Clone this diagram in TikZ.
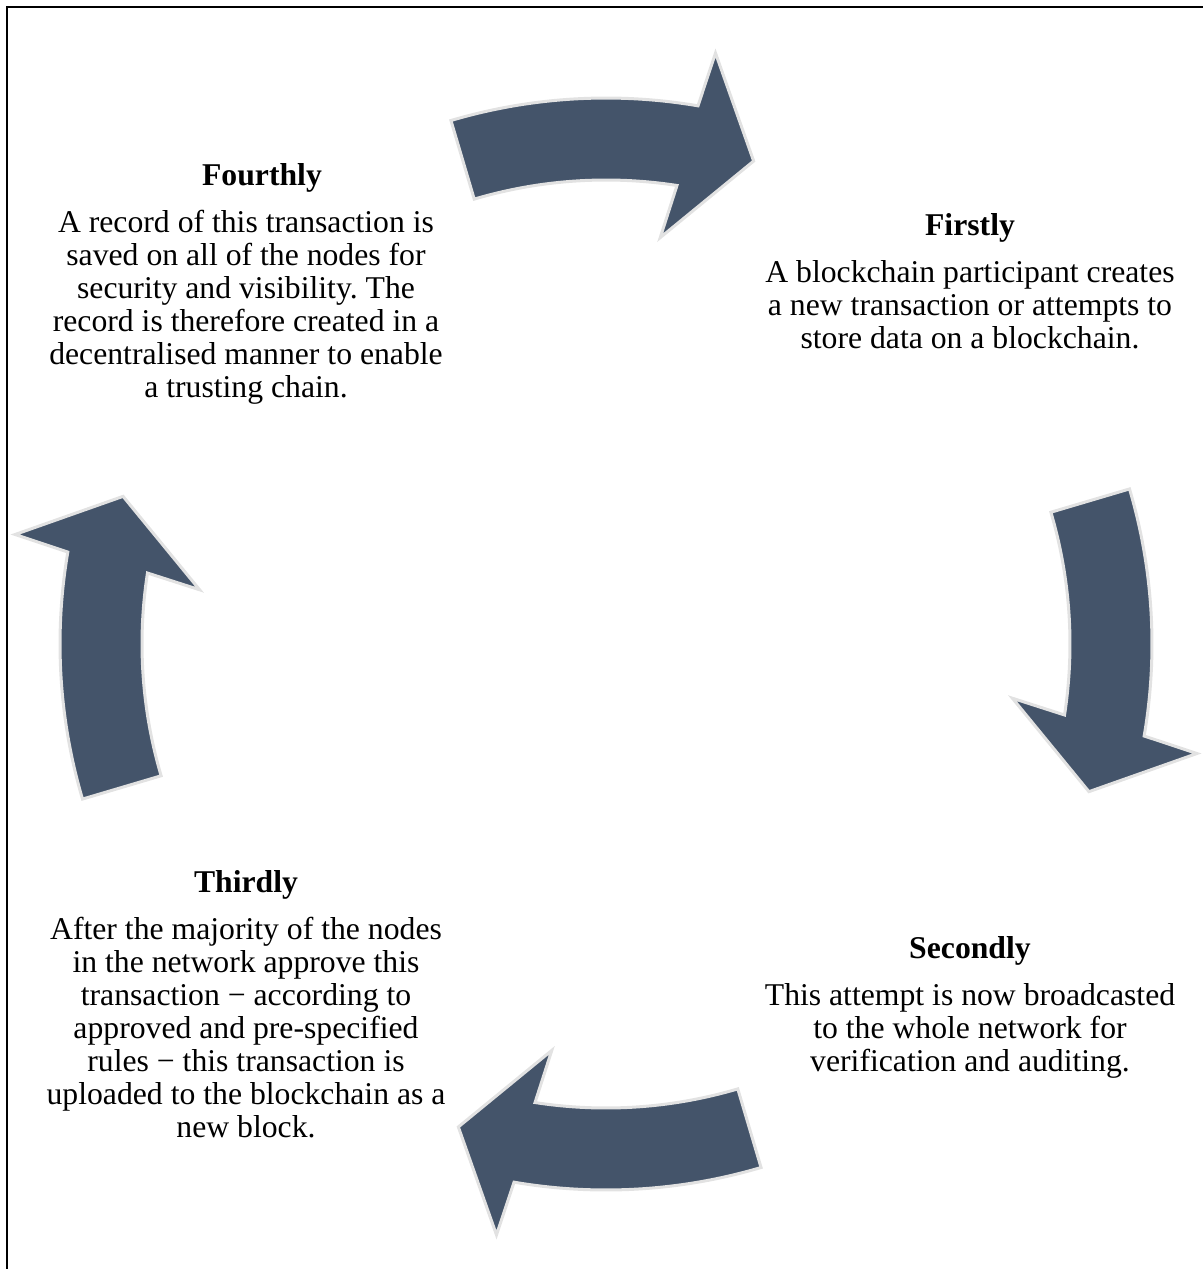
\documentclass[tikz,border=0pt]{standalone}
\usepackage{fontspec}
\setmainfont{Liberation Serif}
\frenchspacing
\definecolor{slate}{HTML}{44546A}
\definecolor{rim}{HTML}{E2E2E2}

\begin{document}
\begin{tikzpicture}[
    x=0.5pt, y=0.5pt,
    heading/.style={font=\fontsize{15.85}{16.5}\selectfont\bfseries, inner sep=0pt, anchor=base},
    blurb/.style={font=\fontsize{15.85}{16.5}\selectfont, align=center, inner sep=0pt, anchor=base},
    cyclearrow/.style={fill=slate, draw=rim, line width=1.5pt, line join=miter}
  ]
  \useasboundingbox (0,0) rectangle (1203,-1269);
  \draw[line width=1pt] (7,-1269) -- (7,-7) -- (1203,-7);

  % four curved arrows round the hub, turning clockwise
  \coordinate (hub) at (606,-644);
  \foreach \quarter in {0,-90,-180,-270} {
    \begin{scope}[shift={(hub)}, rotate=\quarter]
      \filldraw[cyclearrow] (106.5:546) arc[start angle=106.5, end angle=80.3, radius=546]
        -- (79.5:601) -- (73:505) -- (82.4:410) -- (81.2:464)
        arc[start angle=81.2, end angle=106.5, radius=464] -- cycle;
    \end{scope}
  }

  % steps (a blurb's base is the baseline of its last line)
  \node[heading] (first) at (970,-235) {Firstly};
  \node[blurb] (first-text) at ([yshift=-56.5pt] first.base)
    {A blockchain participant creates\\a new transaction or attempts to\\store data on a blockchain.};

  \node[heading] (second) at (970,-958) {Secondly};
  \node[blurb] (second-text) at ([yshift=-56.5pt] second.base)
    {This attempt is now broadcasted\\to the whole network for\\verification and auditing.};

  \node[heading] (third) at (246,-892) {Thirdly};
  \node[blurb] (third-text) at ([yshift=-122.5pt] third.base)
    {After the majority of the nodes\\in the network approve this\\transaction − according to\\approved and pre-specified\\rules − this transaction is\\uploaded to the blockchain as a\\new block.};

  \node[heading] (fourth) at (262,-185) {Fourthly};
  \node[blurb] (fourth-text) at ([xshift=-8pt, yshift=-106pt] fourth.base)
    {A record of this transaction is\\saved on all of the nodes for\\security and visibility. The\\record is therefore created in a\\decentralised manner to enable\\a trusting chain.};
\end{tikzpicture}
\end{document}
